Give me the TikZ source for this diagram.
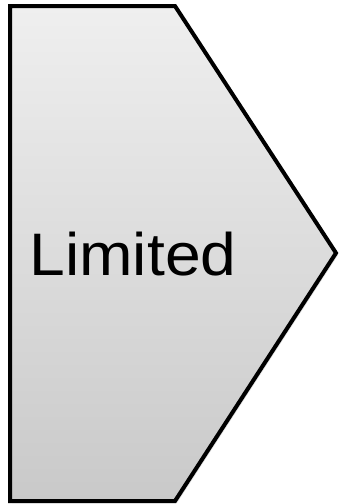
\documentclass[tikz,border=0pt]{standalone}
\usepackage{fontspec}
\setmainfont{Liberation Sans}
\usetikzlibrary{shadows}
\definecolor{topgray}{HTML}{EFEFEF}
\definecolor{botgray}{HTML}{C9C9C9}
\tikzset{
  chevron/.style={draw=black, line width=4pt, line join=miter, top color=topgray, bottom color=botgray,
    drop shadow={shadow xshift=2pt, shadow yshift=-2pt, opacity=0.25}},
  label/.style={font=\fontsize{60}{62}\selectfont, text=black, inner sep=0pt, xscale=1.07}
}
\begin{document}
\begin{tikzpicture}[x=1pt,y=-1pt]
\useasboundingbox (0,0) rectangle (347,504);
\draw[chevron] (10,6) -- (175,6) -- (336,253) -- (175,501) -- (10,501) -- cycle;
\node[label] (t) at (133,254) {Limited};
\end{tikzpicture}
\end{document}
